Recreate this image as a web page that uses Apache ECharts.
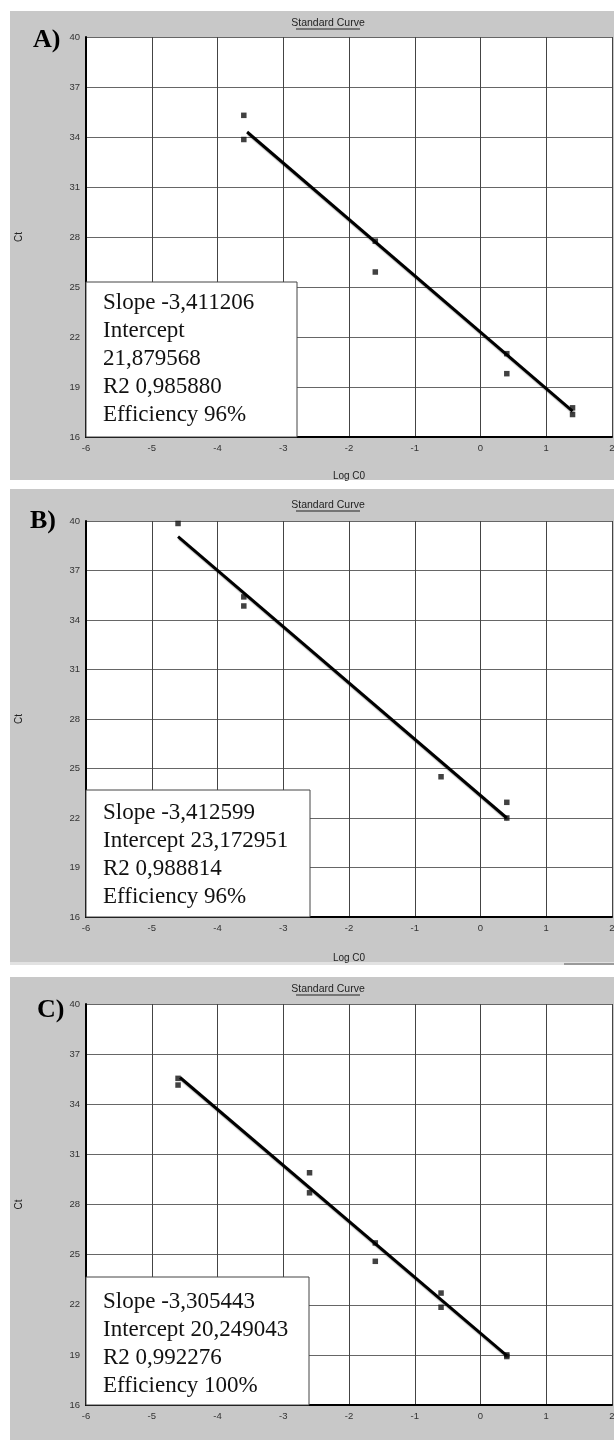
<!DOCTYPE html>
<html>
<head>
<meta charset="utf-8">
<script src="https://cdn.jsdelivr.net/npm/echarts@6/dist/echarts.min.js"></script>
<style>
  html, body { margin: 0; padding: 0; background: #fff; overflow: hidden; }
  #wrap { position: relative; width: 614px; height: 1440px; overflow: hidden; }
  .panel { position: absolute; left: 10px; width: 604px; background: #c8c8c8; }
  #chart { position: absolute; left: 0; top: 0; width: 614px; height: 1440px; }
</style>
</head>
<body>
<div id="wrap">
  <div class="panel" style="top:11px;height:469px;"></div>
  <div class="panel" style="top:489px;height:473px;"></div>
  <div style="position:absolute;left:10px;top:962px;width:604px;height:3px;background:#e2e2e2;"></div>
  <div style="position:absolute;left:564px;top:963px;width:50px;height:2px;background:#9a9a9a;"></div>
  <div class="panel" style="top:977px;height:463px;"></div>
  <div id="chart"></div>
</div>
<script>
// ---- data ----
const xTickMin = -6, xTickMax = 2;
const yTickMin = 16, yTickMax = 40;

const panelLabels = ["A)", "B)", "C)"];
const chartTitle = "Standard Curve";
const xAxisName = "Log C0";
const yAxisName = "Ct";

const logC0_A = [-3.6, -3.6, -1.6, -1.6, 0.4, 0.4, 1.4, 1.4];
const ct_A    = [35.3, 33.85, 27.75, 25.9, 21.0, 19.8, 17.75, 17.35];
const fitX_A  = [-3.55, 1.4];
const fitY_A  = [34.3, 17.55];

const logC0_B = [-4.6, -3.6, -3.6, -0.6, 0.4, 0.4];
const ct_B    = [39.85, 35.4, 34.85, 24.5, 22.95, 22.0];
const fitX_B  = [-4.6, 0.4];
const fitY_B  = [39.05, 22.0];

const logC0_C = [-4.6, -4.6, -2.6, -2.6, -1.6, -1.6, -0.6, -0.6, 0.4, 0.4];
const ct_C    = [35.55, 35.15, 29.9, 28.7, 25.7, 24.6, 22.7, 21.85, 19.0, 18.9];
const fitX_C  = [-4.57, 0.4];
const fitY_C  = [35.6, 18.95];

const stats_A = ["Slope -3,411206", "Intercept", "21,879568", "R2 0,985880", "Efficiency 96%"];
const stats_B = ["Slope -3,412599", "Intercept 23,172951", "R2 0,988814", "Efficiency 96%"];
const stats_C = ["Slope -3,305443", "Intercept 20,249043", "R2 0,992276", "Efficiency 100%"];

// ---- layout ----
const grids = [
  { left: 86, top: 37,   width: 526, height: 400 },
  { left: 86, top: 521,  width: 526, height: 396 },
  { left: 86, top: 1004, width: 526, height: 401 }
];
const nameGaps = [34, 36, 36];
const titleY = [23, 505, 989];
const letterPos = [[33, 40], [30, 521], [37, 1010]];
const boxes = [
  { x: 86, y: 282,  w: 211, h: 155, textY: 289 },
  { x: 86, y: 790,  w: 224, h: 127, textY: 799 },
  { x: 86, y: 1277, w: 223, h: 128, textY: 1288 }
];
const statsAll = [stats_A, stats_B, stats_C];
const pts = [[logC0_A, ct_A], [logC0_B, ct_B], [logC0_C, ct_C]];
const fits = [[fitX_A, fitY_A], [fitX_B, fitY_B], [fitX_C, fitY_C]];

const narrow = '"Liberation Sans Narrow", "Arial Narrow", "Liberation Sans", sans-serif';
const serif = '"Liberation Serif", "Times New Roman", serif';

const xAxes = [], yAxes = [], series = [], graphic = [];
grids.forEach((g, i) => {
  xAxes.push({
    type: 'value', gridIndex: i, min: xTickMin, max: xTickMax, interval: 1,
    name: xAxisName, nameLocation: 'middle', nameGap: nameGaps[i],
    nameTextStyle: { fontFamily: narrow, fontSize: 10, color: '#222' },
    axisLine: { show: true, onZero: false, lineStyle: { color: '#000', width: 2 } },
    axisTick: { show: false },
    axisLabel: { fontFamily: narrow, fontSize: 9.5, color: '#333', margin: 6 },
    splitLine: { show: true, lineStyle: { color: '#444', width: 1 } }
  });
  yAxes.push({
    type: 'value', gridIndex: i, min: yTickMin, max: yTickMax, interval: 3,
    name: yAxisName, nameLocation: 'middle', nameGap: 62, nameRotate: 90,
    nameTextStyle: { fontFamily: narrow, fontSize: 10, color: '#222' },
    axisLine: { show: true, onZero: false, lineStyle: { color: '#000', width: 2 } },
    axisTick: { show: false },
    axisLabel: { fontFamily: narrow, fontSize: 9.5, color: '#333', margin: 6 },
    splitLine: { show: true, lineStyle: { color: '#666', width: 1 } }
  });
  const [xs, ys] = pts[i];
  series.push({
    type: 'scatter', xAxisIndex: i, yAxisIndex: i,
    symbol: 'rect', symbolSize: 5.5, itemStyle: { color: '#111' },
    data: xs.map((x, k) => [x, ys[k]]), z: 3, silent: true
  });
  const [fx, fy] = fits[i];
  series.push({
    type: 'line', xAxisIndex: i, yAxisIndex: i, symbol: 'none',
    lineStyle: { color: '#000', width: 3, shadowColor: 'rgba(0,0,0,0.25)', shadowBlur: 1, shadowOffsetX: 1, shadowOffsetY: 2 },
    data: fx.map((x, k) => [x, fy[k]]), z: 4, silent: true
  });

  // title with underline
  graphic.push({
    type: 'text', x: 328, y: titleY[i], z: 50,
    style: { text: chartTitle, font: '10.5px ' + narrow, fill: '#222', textAlign: 'center', textVerticalAlign: 'middle' }
  });
  graphic.push({
    type: 'line', z: 50,
    shape: { x1: 296, y1: titleY[i] + 6, x2: 360, y2: titleY[i] + 6 },
    style: { stroke: '#222', lineWidth: 1 }
  });
  // panel letter
  graphic.push({
    type: 'text', x: letterPos[i][0], y: letterPos[i][1], z: 50,
    style: { text: panelLabels[i], font: 'bold 26px ' + serif, fill: '#000', textAlign: 'left', textVerticalAlign: 'middle' }
  });
  // stats box
  const b = boxes[i];
  graphic.push({
    type: 'rect', z: 60,
    shape: { x: b.x, y: b.y, width: b.w, height: b.h },
    style: { fill: '#fff', stroke: '#444', lineWidth: 1 }
  });
  graphic.push({
    type: 'text', x: 103, y: b.textY, z: 61,
    style: { text: statsAll[i].join('\n'), font: '23px ' + serif, lineHeight: 28, fill: '#111', textAlign: 'left', textVerticalAlign: 'top' }
  });
});

const chart = echarts.init(document.getElementById('chart'), null, { renderer: 'canvas' });
chart.setOption({
  backgroundColor: 'transparent',
  animation: false,
  grid: grids.map(g => Object.assign({ show: true, backgroundColor: '#fff', borderWidth: 0, containLabel: false, outerBoundsMode: 'none' }, g)),
  xAxis: xAxes,
  yAxis: yAxes,
  series: series,
  graphic: graphic
});
</script>
</body>
</html>
